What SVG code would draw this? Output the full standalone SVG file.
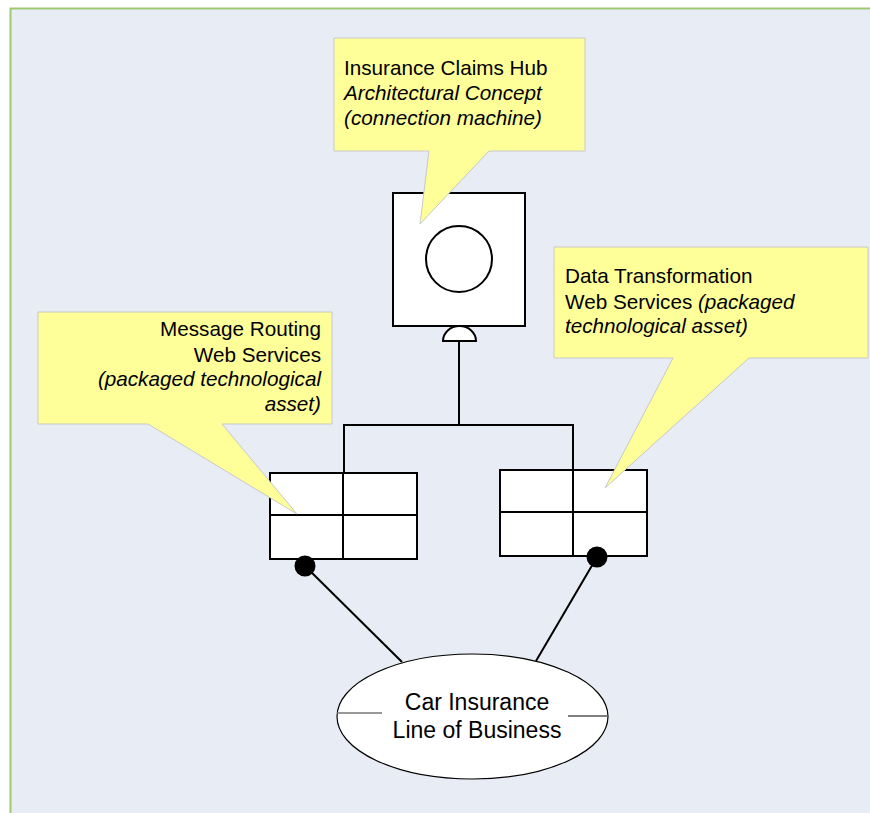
<svg xmlns="http://www.w3.org/2000/svg" width="870" height="813" viewBox="0 0 870 813">
<style>
.n{fill:#fff;stroke:#000;stroke-width:2}
.ln{fill:none;stroke:#000;stroke-width:2}
.co{fill:#ffff99;stroke:#c8c8c8;stroke-width:1}
.t{font-family:"Liberation Sans",Arial,sans-serif;font-size:20.7px;fill:#000}
.i{font-style:italic}
.e{font-family:"Liberation Sans",Arial,sans-serif;font-size:23px;fill:#000;text-anchor:middle}
</style>
<rect x="0" y="0" width="870" height="813" fill="#ffffff"/>
<rect x="10.5" y="8.5" width="870" height="820" fill="#e8ecf4" stroke="#a0c870" stroke-width="2"/>
<g id="connectors">
<line class="ln" x1="459" y1="341" x2="459" y2="425"/>
<polyline class="ln" points="344,473 344,425 573,425 573,470"/>
<line class="ln" x1="305" y1="566" x2="402" y2="662"/>
<line class="ln" x1="597" y1="557" x2="536" y2="661"/>
</g>
<g id="hub">
<rect class="n" x="393" y="193" width="132" height="133"/>
<circle class="n" cx="459" cy="259" r="33"/>
<path class="n" d="M443,341 A16.5,15 0 0 1 476,341 Z"/>
</g>
<g id="routing">
<rect class="n" x="270" y="473" width="147" height="86"/>
<line class="ln" x1="270" y1="515" x2="417" y2="515"/>
<line class="ln" x1="343" y1="473" x2="343" y2="559"/>
<circle cx="305" cy="566" r="10.5" fill="#000"/>
</g>
<g id="transformation">
<rect class="n" x="500" y="470" width="147" height="86"/>
<line class="ln" x1="500" y1="512" x2="647" y2="512"/>
<line class="ln" x1="573" y1="470" x2="573" y2="556"/>
<circle cx="597" cy="557" r="10.5" fill="#000"/>
</g>
<g id="lob">
<ellipse cx="472.5" cy="716.5" rx="135.5" ry="62.5" fill="#fff" stroke="#000" stroke-width="1.2"/>
<line x1="337" y1="713" x2="382" y2="713" stroke="#777" stroke-width="1.5"/>
<line x1="568" y1="716" x2="608" y2="716" stroke="#555" stroke-width="1.5"/>
<text class="e" x="477" y="710">Car Insurance</text>
<text class="e" x="477" y="738">Line of Business</text>
</g>
<g id="callout-hub">
<path class="co" d="M334,38 H585 V151 H489 L420,224 L429,151 H334 Z"/>
<text class="t" x="344" y="75">Insurance Claims Hub</text>
<text class="t i" x="344" y="100">Architectural Concept</text>
<text class="t i" x="344" y="125">(connection machine)</text>
</g>
<g id="callout-routing">
<path class="co" d="M38,312 H332 V424 H222 L297,514 L148,424 H38 Z"/>
<text class="t" x="321" y="336" text-anchor="end">Message Routing</text>
<text class="t" x="321" y="362" text-anchor="end">Web Services</text>
<text class="t i" x="321" y="386" text-anchor="end">(packaged technological</text>
<text class="t i" x="321" y="411" text-anchor="end">asset)</text>
</g>
<g id="callout-transformation">
<path class="co" d="M554,247 H868 V358 H749 L605,488 L673,358 H554 Z"/>
<text class="t" x="565" y="283">Data Transformation</text>
<text class="t" x="565" y="309">Web Services <tspan class="i">(packaged</tspan></text>
<text class="t i" x="565" y="333">technological asset)</text>
</g>
</svg>
